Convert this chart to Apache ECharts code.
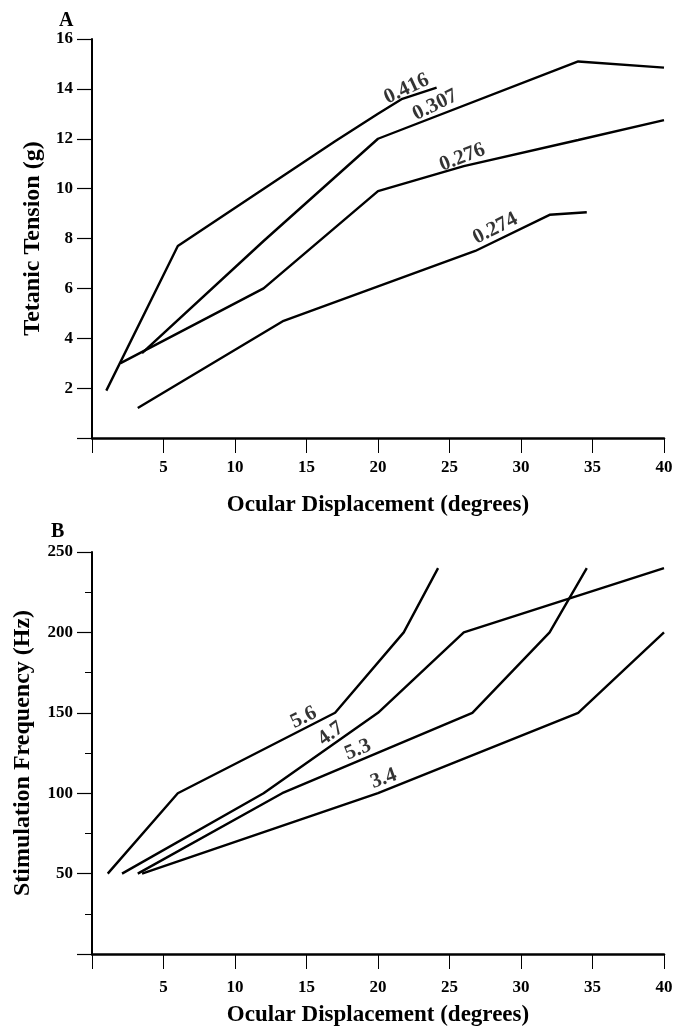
<!DOCTYPE html>
<html>
<head>
<meta charset="utf-8">
<script src="https://cdn.jsdelivr.net/npm/echarts@6/dist/echarts.min.js"></script>
<style>
  html, body { margin: 0; padding: 0; background: #fff; }
  #chart { width: 676px; height: 1032px; }
</style>
</head>
<body>
<div id="chart"></div>
<script>
// ---- panel A: tetanic tension vs ocular displacement ----
var tensionNames = ['0.416', '0.307', '0.276', '0.274'];
var tension416 = [[1, 1.9], [6, 7.7], [17, 11.9], [20, 13.0], [21.7, 13.6], [24.1, 14.05]];
var tension307 = [[3.5, 3.4], [12, 7.9], [20, 12.0], [34, 15.1], [40, 14.85]];
var tension276 = [[2, 3.0], [12, 6.0], [20, 9.9], [26, 10.9], [34, 11.95], [40, 12.75]];
var tension274 = [[3.2, 1.2], [13.4, 4.7], [26.8, 7.5], [32, 8.95], [34.6, 9.05]];
// where each curve's number sits (x, y, rotation in degrees)
var tensionLabelPos = [[22.0, 14.0, 25], [24.0, 13.35, 26], [25.9, 11.25, 21], [28.2, 8.4, 27]];

// ---- panel B: stimulation frequency vs ocular displacement ----
var freqNames = ['5.6', '4.7', '5.3', '3.4'];
var freq56 = [[1.1, 50], [6, 100], [17, 150], [21.8, 200], [24.2, 240]];
var freq47 = [[2.1, 50], [12, 100], [20, 150], [26, 200], [40, 240]];
var freq53 = [[3.2, 50], [13.3, 100], [26.6, 150], [32, 200], [34.6, 240]];
var freq34 = [[3.5, 50], [20, 100], [34, 150], [40, 200]];
var freqLabelPos = [[14.8, 147, 26], [16.7, 137, 36], [18.6, 127, 22], [20.4, 109, 20]];

var xTicks = { min: 0, max: 40, interval: 5 };

var FONT = '"Liberation Serif", "Times New Roman", serif';

function lineSeries(data, idx) {
  return {
    type: 'line', data: data, xAxisIndex: idx, yAxisIndex: idx,
    symbol: 'none', silent: true,
    lineStyle: { color: '#000', width: 2.4 }
  };
}

function labelSeries(names, pos, idx) {
  return {
    type: 'scatter', xAxisIndex: idx, yAxisIndex: idx, symbolSize: 0, silent: true,
    data: names.map(function (n, i) {
      return {
        value: [pos[i][0], pos[i][1]],
        label: { show: true, formatter: n, rotate: pos[i][2], position: 'inside',
          color: '#000', fontFamily: FONT, fontWeight: 'bold', fontSize: 21 }
      };
    })
  };
}

function xAxisFor(idx, labelGap, nameGap) {
  return {
    gridIndex: idx, type: 'value', min: xTicks.min, max: xTicks.max, interval: xTicks.interval,
    name: 'Ocular Displacement (degrees)', nameLocation: 'middle', nameGap: nameGap,
    nameTextStyle: { color: '#000', fontFamily: FONT, fontWeight: 'bold', fontSize: 23 },
    axisLine: { lineStyle: { color: '#000', width: 2.5 } },
    axisTick: { length: 15, lineStyle: { color: '#000', width: 1 } },
    axisLabel: { color: '#000', fontFamily: FONT, fontWeight: 'bold', fontSize: 17, margin: labelGap,
      formatter: function (v) { return v === 0 ? '' : v; } },
    splitLine: { show: false }
  };
}

var chart = echarts.init(document.getElementById('chart'));
var option = {
  backgroundColor: '#fff',
  animation: false,
  title: [
    { text: 'A', left: 54, top: 6, textStyle: { fontFamily: FONT, fontWeight: 'bold', fontSize: 20, color: '#000' } },
    { text: 'B', left: 46, top: 517, textStyle: { fontFamily: FONT, fontWeight: 'bold', fontSize: 20, color: '#000' } }
  ],
  grid: [
    { left: 92, right: 12, top: 39, height: 399 },
    { left: 92, right: 12, top: 552, height: 402 }
  ],
  xAxis: [xAxisFor(0, 21, 56), xAxisFor(1, 25, 50)],
  yAxis: [
    {
      gridIndex: 0, type: 'value', min: 0, max: 16, interval: 2,
      name: 'Tetanic Tension (g)', nameLocation: 'middle', nameGap: 41,
      nameTextStyle: { color: '#000', fontFamily: FONT, fontWeight: 'bold', fontSize: 24 },
      axisLine: { lineStyle: { color: '#000', width: 2 } },
      axisTick: { length: 15, lineStyle: { color: '#000', width: 1.2 } },
      axisLabel: { color: '#000', fontFamily: FONT, fontWeight: 'bold', fontSize: 17, margin: 19,
        formatter: function (v) { return v === 0 ? '' : v; } },
      splitLine: { show: false }
    },
    {
      gridIndex: 1, type: 'value', min: 0, max: 250, interval: 50,
      name: 'Stimulation Frequency (Hz)', nameLocation: 'middle', nameGap: 57,
      nameTextStyle: { color: '#000', fontFamily: FONT, fontWeight: 'bold', fontSize: 24 },
      axisLine: { lineStyle: { color: '#000', width: 2 } },
      axisTick: { length: 15, lineStyle: { color: '#000', width: 1.2 } },
      minorTick: { show: true, splitNumber: 2, length: 7, lineStyle: { color: '#000', width: 1 } },
      axisLabel: { color: '#000', fontFamily: FONT, fontWeight: 'bold', fontSize: 17, margin: 19,
        formatter: function (v) { return v === 0 ? '' : v; } },
      splitLine: { show: false }
    }
  ],
  series: [
    lineSeries(tension416, 0), lineSeries(tension307, 0),
    lineSeries(tension276, 0), lineSeries(tension274, 0),
    labelSeries(tensionNames, tensionLabelPos, 0),
    lineSeries(freq56, 1), lineSeries(freq47, 1),
    lineSeries(freq53, 1), lineSeries(freq34, 1),
    labelSeries(freqNames, freqLabelPos, 1)
  ]
};
chart.setOption(option);
</script>
</body>
</html>
